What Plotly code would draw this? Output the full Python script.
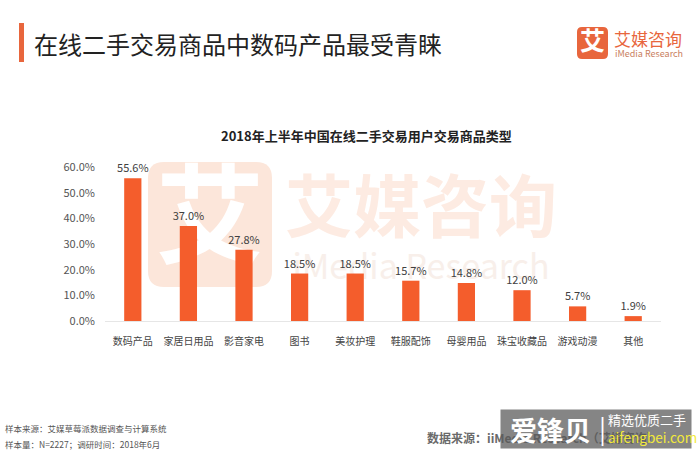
import plotly.graph_objects as go

categories = ["数码产品", "家居日用品", "影音家电", "图书", "美妆护理",
              "鞋服配饰", "母婴用品", "珠宝收藏品", "游戏动漫", "其他"]
values = [55.6, 37.0, 27.8, 18.5, 18.5, 15.7, 14.8, 12.0, 5.7, 1.9]
tick_vals = [0, 10, 20, 30, 40, 50, 60]
tick_text = ["0.0%", "10.0%", "20.0%", "30.0%", "40.0%", "50.0%", "60.0%"]

W, H = 699, 451
L, R, T, B = 105, 661, 167, 321
FONT = "Noto Sans CJK SC"

def px(x):
    return (x - L) / (R - L)

def py(y):
    return (B - y) / (B - T)

def rrect(x0, y0, x1, y1, r):
    rx = r / (R - L)
    ry = r / (B - T)
    a, b, c, d = px(x0), px(x1), py(y1), py(y0)
    return (f"M{a+rx},{d} L{b-rx},{d} Q{b},{d} {b},{d-ry} L{b},{c+ry} "
            f"Q{b},{c} {b-rx},{c} L{a+rx},{c} Q{a},{c} {a},{c+ry} "
            f"L{a},{d-ry} Q{a},{d} {a+rx},{d} Z")

fig = go.Figure()
fig.add_trace(go.Bar(
    x=categories, y=values, width=0.31,
    marker=dict(color="#f45d2c", line=dict(width=0)),
    text=[f"{v:.1f}%" for v in values], textposition="outside",
    constraintext="none",
    textfont=dict(family=FONT, size=11, color="#404040"),
    cliponaxis=False, hoverinfo="skip",
))

shapes = []
shapes.append(dict(type="path", xref="paper", yref="paper", layer="below",
                   path=rrect(148, 162, 272, 287, 16),
                   fillcolor="#fce6da", line=dict(width=0),
                   label=dict(text="<b>艾</b>", font=dict(family=FONT, size=108, color="#ffffff"),
                              textposition="middle center")))
shapes.append(dict(type="rect", xref="paper", yref="paper", layer="below",
                   x0=px(276), x1=px(566), y0=py(250), y1=py(176),
                   fillcolor="rgba(0,0,0,0)", line=dict(width=0),
                   label=dict(text="<b>艾媒咨询</b>", font=dict(family=FONT, size=68, color="#fdebe2"),
                              textposition="middle center")))
shapes.append(dict(type="rect", xref="paper", yref="paper", layer="below",
                   x0=px(276), x1=px(566), y0=py(284), y1=py(254),
                   fillcolor="rgba(0,0,0,0)", line=dict(width=0),
                   label=dict(text="iMedia Research", font=dict(family=FONT, size=34, color="#f8efea"),
                              textposition="middle center")))
shapes.append(dict(type="rect", xref="paper", yref="paper", layer="above",
                   x0=px(19), x1=px(24), y0=py(62), y1=py(23),
                   fillcolor="#e8663d", line=dict(width=0)))
shapes.append(dict(type="path", xref="paper", yref="paper", layer="above",
                   path=rrect(577, 27, 608, 59, 5),
                   fillcolor="#e8663d", line=dict(width=0),
                   label=dict(text="<b>艾</b>", font=dict(family=FONT, size=25, color="#ffffff"),
                              textposition="middle center")))
fig.update_layout(shapes=shapes)

ann = []
ann.append(dict(text="在线二手交易商品中数码产品最受青睐", x=px(32), y=py(43),
                xanchor="left", yanchor="middle",
                font=dict(family=FONT, size=24, color="#222222")))
ann.append(dict(text="艾媒咨询", x=px(612), y=py(38), xanchor="left", yanchor="middle",
                font=dict(family=FONT, size=17, color="#e8663d")))
ann.append(dict(text="iMedia Research", x=px(613), y=py(53), xanchor="left", yanchor="middle",
                font=dict(family=FONT, size=9, color="#c98060")))
ann.append(dict(text="<b>2018年上半年中国在线二手交易用户交易商品类型</b>", x=px(366), y=py(135),
                xanchor="center", yanchor="middle",
                font=dict(family=FONT, size=13, color="#222222")))
ann.append(dict(text="样本来源：艾媒草莓派数据调查与计算系统", x=px(3), y=py(428),
                xanchor="left", yanchor="middle",
                font=dict(family=FONT, size=8.5, color="#555555")))
ann.append(dict(text="样本量：N=2227；调研时间：2018年6月", x=px(3), y=py(444),
                xanchor="left", yanchor="middle",
                font=dict(family=FONT, size=8.5, color="#555555")))
ann.append(dict(text="<b>数据来源：iiMedia Research（艾媒咨询）</b>", x=px(425), y=py(437),
                xanchor="left", yanchor="middle",
                font=dict(family=FONT, size=12, color="#6a6a6a")))
ann.append(dict(text=" ", x=px(500), y=py(409), xanchor="left", yanchor="top",
                width=190, height=38, bgcolor="rgba(90,90,90,0.74)", borderpad=0,
                font=dict(size=10)))
ann.append(dict(text="<b>爱锋贝</b>", x=px(508), y=py(429), xanchor="left", yanchor="middle",
                font=dict(family=FONT, size=27, color="#ffffff")))
ann.append(dict(text="|", x=px(597), y=py(428), xanchor="left", yanchor="middle",
                font=dict(family=FONT, size=26, color="#ffffff")))
ann.append(dict(text="精选优质二手", x=px(606), y=py(419), xanchor="left", yanchor="middle",
                font=dict(family=FONT, size=13, color="#ffffff")))
ann.append(dict(text="aifengbei.com", x=px(606), y=py(437), xanchor="left", yanchor="middle",
                font=dict(family=FONT, size=13.5, color="#f3ea3a")))
for a in ann:
    a.update(xref="paper", yref="paper", showarrow=False)
fig.update_layout(annotations=ann)

fig.update_layout(
    width=W, height=H,
    margin=dict(l=L, r=W - R, t=T, b=H - B, pad=0),
    paper_bgcolor="#ffffff", plot_bgcolor="rgba(0,0,0,0)",
    showlegend=False,
    xaxis=dict(type="category", showline=True, linecolor="#e6e6e6", linewidth=1,
               ticks="", showgrid=False, zeroline=False,
               tickfont=dict(family=FONT, size=10, color="#444444"),
               ticklabelstandoff=11, fixedrange=True),
    yaxis=dict(range=[0, 60], tickvals=tick_vals, ticktext=tick_text,
               showgrid=False, zeroline=False, showline=False, ticks="",
               tickfont=dict(family=FONT, size=11, color="#555555"),
               ticklabelstandoff=9, fixedrange=True),
)

fig.write_html("out.html", config={"displayModeBar": False},
               post_script="document.body.style.margin='0';document.body.style.overflow='hidden';")
